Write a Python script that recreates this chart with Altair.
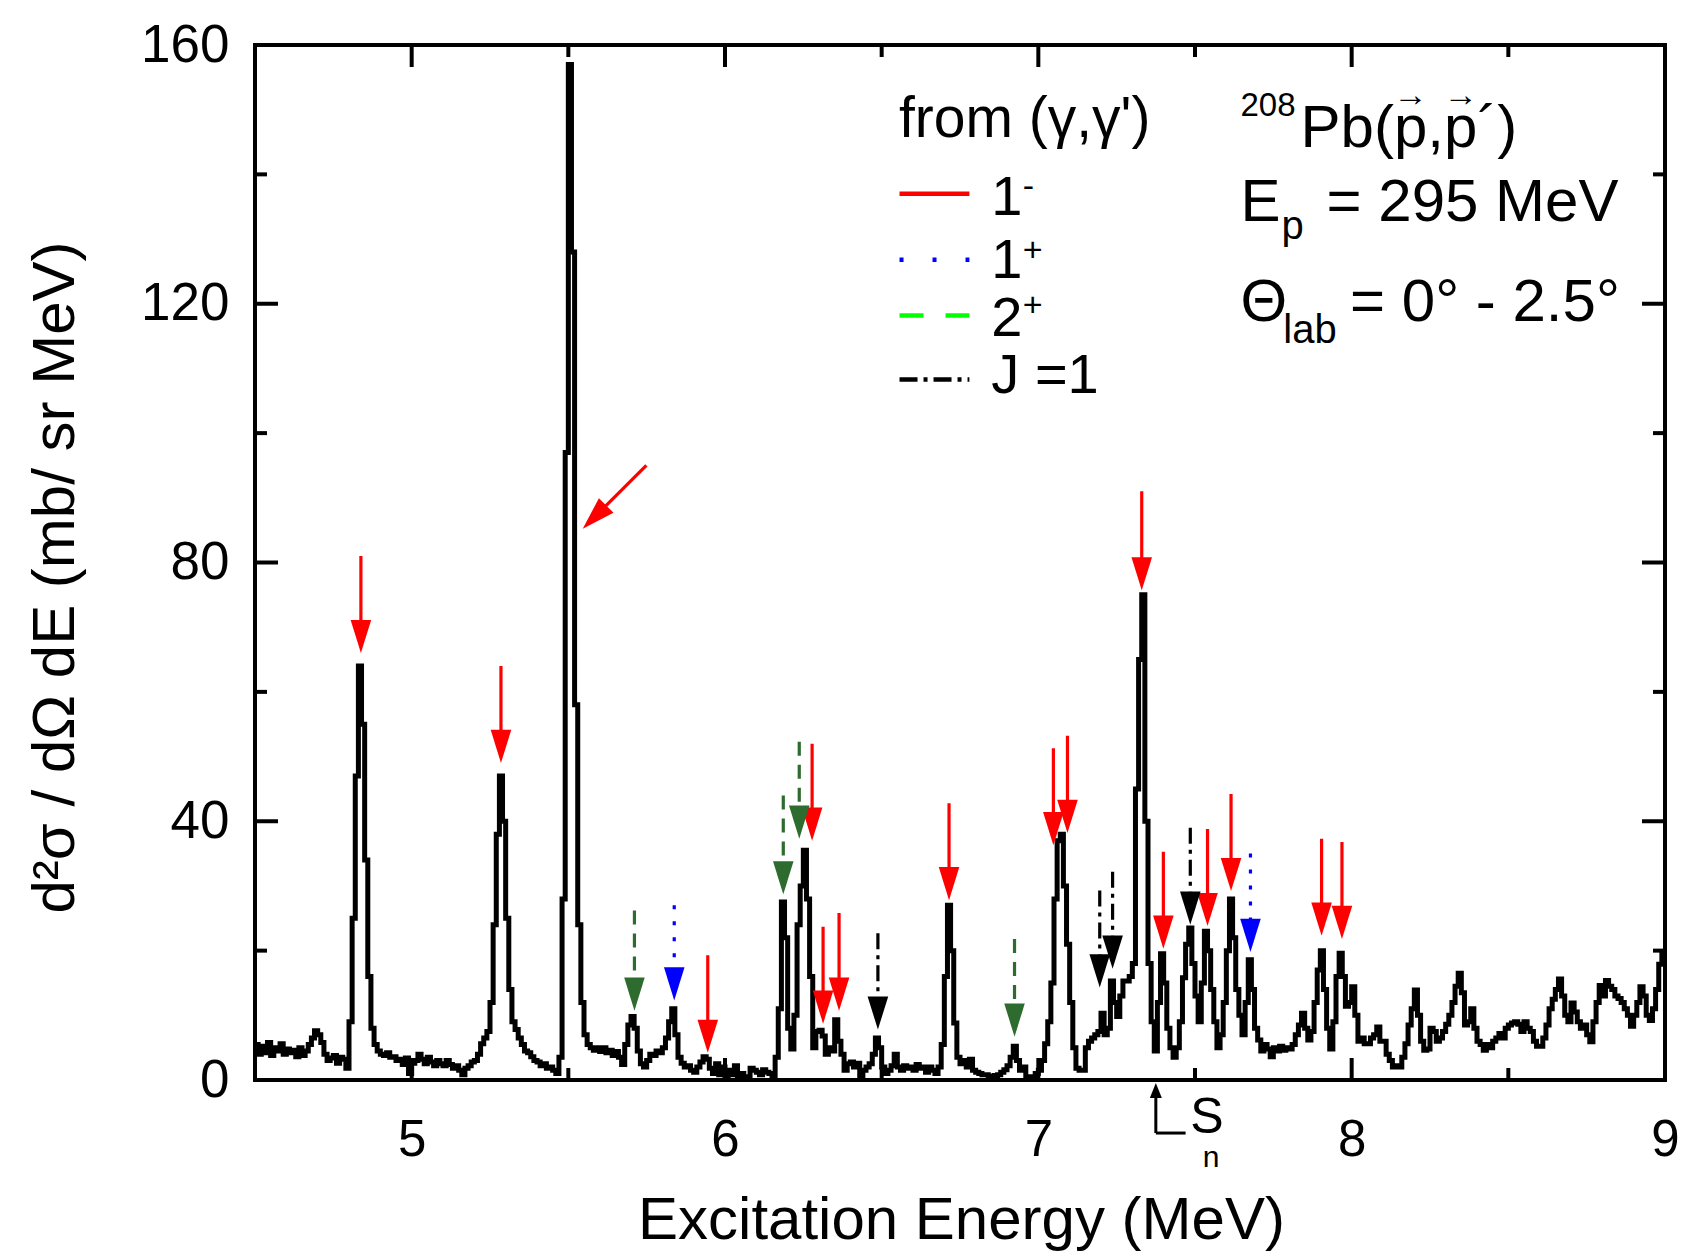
import altair as alt
import pandas as pd

FONT = "Liberation Sans, Arial, Helvetica, sans-serif"

# ---------------- spectrum (10 keV bins starting at 4.50 MeV) ----------------
E_START = 4.50
E_BIN = 0.01
counts = [
    5.5, 4.0, 5.2, 4.2, 5.8, 3.8, 5.0, 4.5, 5.6, 4.0,      # 4.5
    4.8, 4.2, 4.6, 3.6, 5.0, 3.8, 4.5, 5.5, 6.5, 7.6,      # 4.6
    7.0, 5.8, 4.0, 3.0, 3.4, 3.8, 2.6, 3.5, 3.2, 1.8,      # 4.7
    9.0, 25, 47, 64, 55, 34, 16, 8.0, 5.5, 4.5,            # 4.8
    4.0, 3.8, 4.2, 3.5, 3.6, 3.0, 3.2, 2.4, 3.4, 1.0,      # 4.9
    2.6, 3.0, 4.0, 3.2, 2.5, 3.5, 2.8, 2.2, 3.0, 2.5,      # 5.0
    2.2, 3.0, 2.4, 1.8, 2.2, 1.5, 0.8, 1.8, 2.2, 2.8,      # 5.1
    3.0, 4.0, 5.6, 6.5, 7.5, 12, 24, 38, 47, 40,           # 5.2
    25, 14, 9.0, 7.8, 6.5, 5.5, 4.5, 4.2, 3.6, 3.0,        # 5.3
    2.8, 2.2, 2.5, 1.8, 2.0, 1.5, 1.0, 3.5, 28, 97,        # 5.4
    157, 128, 58, 24, 12, 7.0, 5.5, 5.0, 4.6, 5.0,         # 5.5
    4.4, 5.0, 4.2, 4.6, 3.8, 4.4, 3.5, 2.4, 5.5, 8.5,      # 5.6
    9.8, 8.0, 4.5, 2.5, 2.0, 3.0, 4.0, 3.8, 4.5, 4.2,      # 5.7
    5.0, 6.5, 9.0, 11.0, 7.0, 3.5, 2.6, 2.0, 2.2, 1.5,     # 5.8
    1.2, 2.0, 2.8, 3.6, 3.2, 1.8, 1.0, 2.5, 0.8, 2.0,      # 5.9
    0.5, 1.5, 0.8, 2.2, 0.5, 1.0, 0.5, 0.3, 1.8, 1.5,      # 6.0
    1.2, 0.8, 1.6, 1.2, 1.0, 0.5, 3.5, 11, 27.5, 22,       # 6.1
    8.0, 4.8, 10, 24, 30, 35.5, 28, 16, 5.0, 7.5,          # 6.2
    7.7, 6.8, 4.0, 5.0, 4.5, 9.3, 6.0, 4.0, 1.5, 2.5,      # 6.3
    2.8, 2.0, 2.6, 0.5, 1.5, 2.0, 2.5, 4.0, 6.5, 5.0,      # 6.4
    2.0, 1.0, 1.5, 2.2, 4.0, 2.0, 1.5, 2.2, 1.8, 2.0,      # 6.5
    1.5, 2.4, 1.8, 2.0, 1.2, 2.0, 1.5, 1.0, 2.0, 5.5,      # 6.6
    16, 27, 20, 8.8, 3.5, 2.5, 3.0, 2.0, 3.2, 1.5,         # 6.7
    1.2, 1.0, 0.8, 0.8, 0.6, 0.6, 0.7, 0.8, 1.2, 1.6,      # 6.8
    2.2, 3.5, 5.2, 3.0, 1.5, 2.0, 0.5, 0.3, 0.5, 1.0,      # 6.9
    1.5, 3.0, 5.6, 9.0, 15, 28, 37, 38, 30, 21,            # 7.0
    12, 5.0, 1.8, 1.5, 1.5, 5.0, 6.0, 6.5, 7.0, 7.5,       # 7.1
    10.3, 7.0, 8.0, 15.3, 12.0, 9.8, 13.0, 15.3, 15.3, 16.0,  # 7.2
    18, 45, 65, 75, 40, 18, 9.0, 4.5, 12, 19.5,            # 7.3
    15, 8.0, 5.0, 3.5, 5.0, 9.0, 15.8, 21, 23.5, 18,       # 7.4
    13, 9.0, 15, 23, 20, 14, 9.0, 5.0, 7.0, 12,            # 7.5
    20, 28, 22, 14, 10, 7.0, 12, 18.6, 14, 8.0,            # 7.6
    6.2, 4.5, 5.5, 4.8, 3.6, 5.0, 4.5, 5.2, 4.6, 5.0,      # 7.7
    4.8, 5.5, 7.0, 8.5, 10.3, 8.0, 6.2, 7.5, 12, 17,       # 7.8
    20, 14, 8.0, 4.8, 9.0, 16, 19.6, 16, 11.4, 12,         # 7.9
    14.4, 10, 6.0, 6.5, 5.6, 5.6, 6.5, 7.0, 8.2, 6.0,      # 8.0
    6.0, 4.0, 3.0, 2.0, 2.2, 2.0, 3.5, 5.6, 8.5, 11,       # 8.1
    13.9, 10.0, 6.0, 4.6, 4.8, 8.0, 7.5, 6.0, 6.5, 7.5,    # 8.2
    8.6, 10, 12, 14.5, 16.5, 13.5, 8.5, 9.0, 11.0, 8.0,    # 8.3
    6.0, 5.5, 4.6, 5.5, 5.0, 6.0, 6.5, 7.2, 6.5, 8.0,      # 8.4
    8.5, 8.8, 9.0, 8.6, 7.5, 9.0, 8.0, 7.5, 6.0, 5.2,      # 8.5
    5.2, 6.5, 8.5, 11, 12.5, 14, 15.6, 13, 10, 9.0,        # 8.6
    11.9, 10.5, 9.0, 8.0, 8.5, 7.0, 5.9, 9.0, 12, 14.6,    # 8.7
    13, 15.4, 14.5, 14, 13, 12.6, 12, 11, 10, 8.3,         # 8.8
    10, 12, 14.4, 13, 10, 9.2, 11, 14, 17.9, 19.8,         # 8.9
    19.8,                                                  # 9.0
]
energies = [round(E_START + i * E_BIN, 2) for i in range(len(counts))]

# ---------------- arrows from (gamma,gamma') ----------------
arrow_kind = ["1-"] * 15 + ["1+"] * 2 + ["2+"] * 4 + ["J1"] * 4
arrow_E = [4.838, 5.285, 5.945, 6.278, 6.313, 6.364, 6.715, 7.048, 7.093,
           7.330, 7.399, 7.540, 7.615, 7.904, 7.969,
           5.838, 7.677,
           5.711, 6.186, 6.237, 6.924,
           6.488, 7.196, 7.237, 7.485]
arrow_tail = [81, 64, 19.3, 52, 23.7, 25.8, 42.8, 51.3, 53.2,
              91, 35.3, 38.8, 44.2, 37.3, 36.8,
              27, 35,
              26.2, 44, 52.3, 21.8,
              22.7, 29.3, 32.2, 39]
arrow_tip = [66, 49, 4.2, 37, 8.7, 10.7, 27.8, 36.3, 38.2,
             75.7, 20.3, 23.8, 29.2, 22.3, 21.8,
             12.3, 19.8,
             10.7, 28.7, 37.3, 6.7,
             7.8, 14.3, 17.2, 24]
# the oblique arrow pointing at the 5.51 MeV peak
diag_tail_E, diag_tail_y = [5.749], [95.0]
diag_tip_E, diag_tip_y = [5.546], [85.2]

KINDS = ["1-", "1+", "2+", "J1"]
ARROW_COLOR = {"1-": "#ff0000", "1+": "#0000ff", "2+": "#2e6b2e", "J1": "#000000"}
LEGEND_COLOR = {"1-": "#ff0000", "1+": "#0000ff", "2+": "#00ff00", "J1": "#000000"}
ARROW_DASH = {"1-": [1, 0], "1+": [4, 12], "2+": [14, 9], "J1": [16, 6, 4, 6]}
LEGEND_DASH = {"1-": [1, 0], "1+": [4, 29], "2+": [24, 22], "J1": [18, 6, 4, 6]}

# legend sample lines (energy range and height in data units)
legend_x0, legend_x1 = 6.557, 6.780
legend_y = {"1-": 137.0, "1+": 126.8, "2+": 118.2, "J1": 108.3}

# ---------------- texts ----------------
txt_x = [6.555, 6.85, 6.95, 6.85, 6.95, 6.85, 6.95, 6.85,
         7.645, 7.837, 7.645, 7.776, 7.92, 7.645, 7.782, 7.995,
         7.485, 7.525]
txt_y = [145.8, 133.7, 136.5, 124.0, 126.6, 115.0, 118.1, 106.2,
         149.0, 144.2, 132.8, 130.0, 132.8, 117.3, 114.0, 117.3,
         -8.2, -13.4]
txt_t = ["from (γ,γ')", "1", "-", "1", "+", "2", "+", "J =1",
         "208", "Pb(p,p´)", "E", "p", "= 295 MeV", "Θ", "lab", "= 0° - 2.5°",
         "S", "n"]
txt_s = [57, 56, 34, 56, 34, 56, 34, 56,
         33, 60, 60, 40, 60, 60, 40, 60,
         50, 30]
vec_x = [8.188, 8.348]
vec_y = [150.5, 150.5]

# neutron separation energy marker
Sn = 7.375
sn_bottom = -8.2
sn_corner_E = 7.47

x_major = [5, 6, 7, 8]
x_minor = [5.5, 6.5, 7.5, 8.5]
y_major = [40, 80, 120]
y_minor = [20, 60, 100, 140]

W, H = 1410, 1035
xs = alt.Scale(domain=[4.5, 9.0], nice=False, zero=False)
ys = alt.Scale(domain=[0, 160], nice=False, zero=False)
HEAD = "M-0.62,-2L0.62,-2L0,0Z"
UPHEAD = "M-0.8,2L0.8,2L0,0Z"

XAX = alt.Axis(
    values=[5, 6, 7, 8, 9], format="d", ticks=False, domain=False, grid=False,
    labelFont=FONT, labelFontSize=51, labelColor="black", labelPadding=35,
    labelFlush=False, title="Excitation Energy (MeV)", titleFont=FONT,
    titleFontSize=60, titleFontWeight="normal", titleColor="black",
    titleX=706, titleY=158, titleBaseline="alphabetic", titleAlign="center")
YAX = alt.Axis(
    values=[0, 40, 80, 120, 160], ticks=False, domain=False, grid=False,
    labelFont=FONT, labelFontSize=53, labelColor="black", labelPadding=26,
    title="d²σ / dΩ dE (mb/ sr MeV)", titleFont=FONT, titleFontSize=60,
    titleFontWeight="normal", titleColor="black", titleAngle=270,
    titleX=-200, titleY=532, titleBaseline="middle", titleAlign="center")


def X(field):
    return alt.X(field, scale=xs, axis=XAX)


def Y(field):
    return alt.Y(field, scale=ys, axis=YAX)


layers = []

spec_df = pd.DataFrame({"E": energies, "c": counts})
layers.append(
    alt.Chart(spec_df).mark_line(color="black", strokeWidth=5, interpolate="step-after",
                                 clip=True, strokeJoin="miter").encode(
        x=X("E:Q"), y=Y("c:Q"))
)


# inward ticks on all four sides
def xticks(vals, length):
    d = pd.DataFrame({"v": vals})
    b = alt.Chart(d).mark_rule(color="black", strokeWidth=4).encode(
        x=X("v:Q"), y=alt.value(H), y2=alt.value(H - length))
    t = alt.Chart(d).mark_rule(color="black", strokeWidth=4).encode(
        x=X("v:Q"), y=alt.value(0), y2=alt.value(length))
    return [b, t]


def yticks(vals, length):
    d = pd.DataFrame({"v": vals})
    l = alt.Chart(d).mark_rule(color="black", strokeWidth=4).encode(
        y=Y("v:Q"), x=alt.value(0), x2=alt.value(length))
    r = alt.Chart(d).mark_rule(color="black", strokeWidth=4).encode(
        y=Y("v:Q"), x=alt.value(W), x2=alt.value(W - length))
    return [l, r]


layers += xticks(x_major, 22) + xticks(x_minor, 12) + yticks(y_major, 23) + yticks(y_minor, 12)

arr_df = pd.DataFrame({"kind": arrow_kind, "E": arrow_E, "tail": arrow_tail, "tip": arrow_tip})
for k in KINDS:
    sub = arr_df[arr_df.kind == k]
    layers.append(
        alt.Chart(sub).mark_rule(color=ARROW_COLOR[k], strokeWidth=3.2, strokeDash=ARROW_DASH[k],
                                 y2Offset=-12).encode(
            x=X("E:Q"), y=Y("tail:Q"), y2="tip:Q")
    )
    layers.append(
        alt.Chart(sub).mark_point(shape=HEAD, size=1100, filled=True, opacity=1,
                                  color=ARROW_COLOR[k], strokeWidth=0).encode(
            x=X("E:Q"), y=Y("tip:Q"))
    )

diag_df = pd.DataFrame({"E0": diag_tail_E, "y0": diag_tail_y, "E1": diag_tip_E, "y1": diag_tip_y,
                        "ang": [45]})
layers.append(
    alt.Chart(diag_df).mark_rule(color="#ff0000", strokeWidth=3.2, x2Offset=8, y2Offset=-8).encode(
        x=X("E0:Q"), x2="E1:Q", y=Y("y0:Q"), y2="y1:Q")
)
layers.append(
    alt.Chart(diag_df).mark_point(shape=HEAD, size=1100, filled=True, opacity=1,
                                  color="#ff0000", strokeWidth=0).encode(
        x=X("E1:Q"), y=Y("y1:Q"), angle=alt.Angle("ang:Q", scale=None))
)

# legend sample lines
for k in KINDS:
    d = pd.DataFrame({"x0": [legend_x0], "x1": [legend_x1], "y": [legend_y[k]]})
    layers.append(
        alt.Chart(d).mark_rule(color=LEGEND_COLOR[k], strokeWidth=4.5, strokeDash=LEGEND_DASH[k]).encode(
            x=X("x0:Q"), x2="x1:Q", y=Y("y:Q"))
    )

# S_n marker (below the axis)
sn_v = pd.DataFrame({"E": [Sn], "y0": [sn_bottom], "y1": [0.0]})
layers.append(
    alt.Chart(sn_v).mark_rule(color="black", strokeWidth=3, y2Offset=10).encode(
        x=X("E:Q"), y=Y("y0:Q"), y2="y1:Q")
)
layers.append(
    alt.Chart(sn_v).mark_point(shape=UPHEAD, size=225, filled=True, opacity=1, color="black",
                               strokeWidth=0, yOffset=3).encode(
        x=X("E:Q"), y=Y("y1:Q"))
)
sn_h = pd.DataFrame({"E0": [Sn], "E1": [sn_corner_E], "y": [sn_bottom]})
layers.append(
    alt.Chart(sn_h).mark_rule(color="black", strokeWidth=3).encode(
        x=X("E0:Q"), x2="E1:Q", y=Y("y:Q"))
)

txt_df = pd.DataFrame({"x": txt_x, "y": txt_y, "t": txt_t, "s": txt_s})
layers.append(
    alt.Chart(txt_df).mark_text(align="left", baseline="alphabetic", font=FONT, color="black").encode(
        x=X("x:Q"), y=Y("y:Q"), text="t:N", size=alt.Size("s:Q", scale=None))
)
vec_df = pd.DataFrame({"x": vec_x, "y": vec_y, "t": ["→", "→"]})
layers.append(
    alt.Chart(vec_df).mark_text(align="center", baseline="alphabetic", font=FONT, color="black",
                                fontSize=34).encode(
        x=X("x:Q"), y=Y("y:Q"), text="t:N")
)

chart = alt.layer(*layers).properties(
    width=W, height=H,
    background="white",
    autosize=alt.AutoSizeParams(type="none"),
    padding={"left": 255, "top": 45, "right": 25, "bottom": 175},
).configure_view(stroke="black", strokeWidth=4)

chart.save("out.html", embed_options={"renderer": "svg", "actions": False})
